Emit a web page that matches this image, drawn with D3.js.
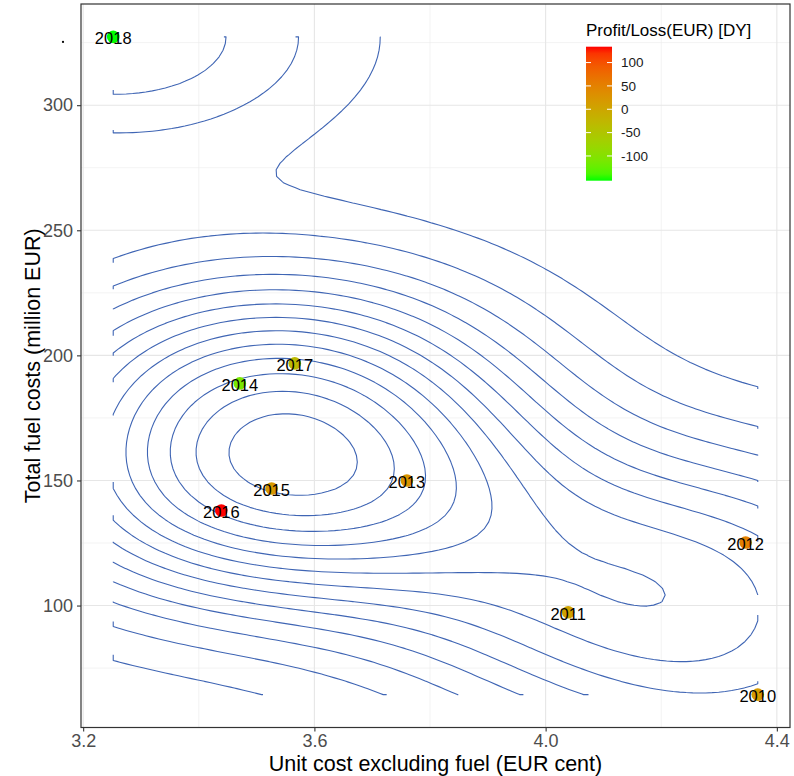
<!DOCTYPE html>
<html>
<head>
<meta charset="utf-8">
<script src="https://cdn.jsdelivr.net/npm/d3@7"></script>
<style>
  body { margin: 0; background: #ffffff; }
  svg text { font-family: "Liberation Sans", Arial, sans-serif; }
</style>
</head>
<body>
<svg id="chart" width="794" height="776"></svg>
<script>
// ---------------- data ----------------
const years      = [2010, 2011, 2012, 2013, 2014, 2015, 2016, 2017, 2018];
const unitCost   = [4.367, 4.039, 4.346, 3.760, 3.471, 3.526, 3.439, 3.566, 3.252]; // EUR cent
const fuelCost   = [64.4, 97.3, 125.2, 150.0, 188.8, 146.8, 138.0, 196.8, 327.3];  // million EUR
const profitLoss = [15, 5, 50, 25, -110, 20, 134, -30, -153];                     // EUR [DY]
const xTickValues = [3.2, 3.6, 4.0, 4.4];
const xMinorValues = [3.4, 3.8, 4.2];
const yTickValues = [100, 150, 200, 250, 300];
const yMinorValues = [75, 125, 175, 225, 275, 325];
const legendTickValues = [100, 50, 0, -50, -100];

// ---------------- layout ----------------
const svg = d3.select("#chart");
const panel = { left: 81, right: 790, top: 4, bottom: 727.5 };

function expand(ext, mult) {
  const r = ext[1] - ext[0];
  return [ext[0] - r * mult, ext[1] + r * mult];
}
const xExt = d3.extent(unitCost), yExt = d3.extent(fuelCost);
const x = d3.scaleLinear().domain(expand(xExt, 0.05)).range([panel.left, panel.right]);
const y = d3.scaleLinear().domain(expand(yExt, 0.05)).range([panel.bottom, panel.top]);

const color = d3.scaleLinear()
  .domain(d3.extent(profitLoss))
  .range(["#00ff00", "#ff0000"])
  .interpolate(d3.interpolateLab);

// ---------------- grid ----------------
const grid = svg.append("g");
grid.selectAll(".xminor").data(xMinorValues).join("line")
  .attr("x1", d => x(d)).attr("x2", d => x(d))
  .attr("y1", panel.top).attr("y2", panel.bottom)
  .attr("stroke", "#ebebeb").attr("stroke-width", 0.6);
grid.selectAll(".yminor").data(yMinorValues).join("line")
  .attr("y1", d => y(d)).attr("y2", d => y(d))
  .attr("x1", panel.left).attr("x2", panel.right)
  .attr("stroke", "#ebebeb").attr("stroke-width", 0.6);
grid.selectAll(".xmajor").data(xTickValues).join("line")
  .attr("x1", d => x(d)).attr("x2", d => x(d))
  .attr("y1", panel.top).attr("y2", panel.bottom)
  .attr("stroke", "#e6e6e6").attr("stroke-width", 1.1);
grid.selectAll(".ymajor").data(yTickValues).join("line")
  .attr("y1", d => y(d)).attr("y2", d => y(d))
  .attr("x1", panel.left).attr("x2", panel.right)
  .attr("stroke", "#e6e6e6").attr("stroke-width", 1.1);

// ---------------- 2D density (kde2d-like) ----------------
function bandwidthNrd(v) {
  const s = v.slice().sort(d3.ascending);
  const iqr = d3.quantileSorted(s, 0.75) - d3.quantileSorted(s, 0.25);
  return 4 * 1.06 * Math.min(d3.deviation(v), iqr / 1.34) * Math.pow(v.length, -0.2);
}
const N = 100;
const adjust = 1.015;
const hx = adjust * bandwidthNrd(unitCost) / 4, hy = adjust * bandwidthNrd(fuelCost) / 4;
const gx = d3.range(N).map(i => xExt[0] + i * (xExt[1] - xExt[0]) / (N - 1));
const gy = d3.range(N).map(j => yExt[0] + j * (yExt[1] - yExt[0]) / (N - 1));
const dnorm = t => Math.exp(-0.5 * t * t) / Math.sqrt(2 * Math.PI);
const values = new Array(N * N);
for (let j = 0; j < N; j++) {
  for (let i = 0; i < N; i++) {
    let s = 0;
    for (let k = 0; k < unitCost.length; k++) {
      s += dnorm((gx[i] - unitCost[k]) / hx) * dnorm((gy[j] - fuelCost[k]) / hy);
    }
    values[j * N + i] = s / (unitCost.length * hx * hy);
  }
}
function rPretty(lo, up, ndiv) {
  const h = 1.5, h5 = 0.5 + 1.5 * h;
  const cell = (up - lo) / ndiv;
  const U = Math.pow(10, Math.floor(Math.log10(cell)));
  let unit = U;
  if (2 * U - cell < h * (cell - unit)) { unit = 2 * U;
    if (5 * U - cell < h5 * (cell - unit)) { unit = 5 * U;
      if (10 * U - cell < h * (cell - unit)) unit = 10 * U; } }
  let ns = Math.floor(lo / unit + 1e-7), nu = Math.ceil(up / unit - 1e-7);
  return d3.range(ns, nu + 1).map(k => k * unit);
}
const zExt = d3.extent(values);
const breaks = rPretty(zExt[0], zExt[1], 10).filter(b => b > zExt[0] && b < zExt[1]);
const contours = d3.contours().size([N, N]).thresholds(breaks)(values);

function ringToLines(ring) {
  let pts = ring.slice();
  const f = pts[0], l = pts[pts.length - 1];
  if (f[0] === l[0] && f[1] === l[1]) pts.pop();
  const m = pts.length;
  const onB = p => p[0] <= 0 || p[0] >= N || p[1] <= 0 || p[1] >= N;
  const cut = k => onB(pts[k]) && onB(pts[(k + 1) % m]);
  let start = -1;
  for (let k = 0; k < m; k++) if (cut(k)) { start = k; break; }
  if (start < 0) return [pts.concat([pts[0]])];
  const out = []; let cur = null;
  for (let s = 1; s <= m; s++) {
    const k = (start + s) % m;
    if (cut(k)) { if (cur && cur.length > 1) out.push(cur); cur = null; }
    else { if (!cur) cur = [pts[k]]; cur.push(pts[(k + 1) % m]); }
  }
  if (cur && cur.length > 1) out.push(cur);
  return out;
}
const clampC = c => Math.max(0.5, Math.min(N - 0.5, c));
const gridToX = c => xExt[0] + (clampC(c) - 0.5) * (xExt[1] - xExt[0]) / (N - 1);
const gridToY = c => yExt[0] + (clampC(c) - 0.5) * (yExt[1] - yExt[0]) / (N - 1);
const lineGen = d3.line().x(p => x(gridToX(p[0]))).y(p => y(gridToY(p[1])));
const contourLines = [];
contours.forEach(mp => mp.coordinates.forEach(poly => poly.forEach(ring => {
  ringToLines(ring).forEach(l => contourLines.push(l));
})));
svg.append("g").selectAll("path").data(contourLines).join("path")
  .attr("d", lineGen)
  .attr("fill", "none")
  .attr("stroke", "#3f65b4")
  .attr("stroke-width", 1.1)
  .attr("stroke-linejoin", "round");

// ---------------- points & labels ----------------
const pts = years.map((yr, i) => ({ yr, ux: unitCost[i], fy: fuelCost[i], p: profitLoss[i] }));
svg.append("g").selectAll("circle").data(pts).join("circle")
  .attr("cx", d => x(d.ux)).attr("cy", d => y(d.fy)).attr("r", 6.3)
  .attr("fill", d => color(d.p));
svg.append("g").selectAll("text").data(pts).join("text")
  .attr("x", d => x(d.ux)).attr("y", d => y(d.fy)).attr("dy", "0.45em")
  .attr("text-anchor", "middle").attr("font-size", 16.5).attr("fill", "#000")
  .text(d => d.yr);

// ---------------- panel border ----------------
svg.append("rect")
  .attr("x", panel.left).attr("y", panel.top)
  .attr("width", panel.right - panel.left).attr("height", panel.bottom - panel.top)
  .attr("fill", "none").attr("stroke", "#333333").attr("stroke-width", 1.2);

// ---------------- axes ----------------
const xAxis = svg.append("g").attr("transform", `translate(0,${panel.bottom})`)
  .call(d3.axisBottom(x).tickValues(xTickValues).tickFormat(d3.format(".1f")).tickSize(4).tickPadding(3));
const yAxis = svg.append("g").attr("transform", `translate(${panel.left},0)`)
  .call(d3.axisLeft(y).tickValues(yTickValues).tickFormat(d3.format("d")).tickSize(4).tickPadding(4));
[xAxis, yAxis].forEach(a => {
  a.select(".domain").remove();
  a.selectAll(".tick line").attr("stroke", "#333333").attr("stroke-width", 1.1);
  a.selectAll(".tick text").attr("fill", "#4d4d4d").attr("font-size", 18)
    .attr("font-family", "'Liberation Sans', Arial, sans-serif");
});

svg.append("text")
  .attr("x", (panel.left + panel.right) / 2).attr("y", 771)
  .attr("text-anchor", "middle").attr("font-size", 21.5).attr("fill", "#000")
  .text("Unit cost excluding fuel (EUR cent)");
svg.append("text")
  .attr("transform", `translate(40,${(panel.top + panel.bottom) / 2}) rotate(-90)`)
  .attr("text-anchor", "middle").attr("font-size", 21.5).attr("fill", "#000")
  .text("Total fuel costs (million EUR)");

// small stray mark left of the panel
svg.append("circle").attr("cx", panel.left - 18).attr("cy", y(d3.max(fuelCost)) + 5)
  .attr("r", 1.1).attr("fill", "#000");

// ---------------- legend ----------------
const lg = { x: 586, top: 46.7, bottom: 180.7, w: 26 };
const lScale = d3.scaleLinear().domain(d3.extent(profitLoss)).range([lg.bottom, lg.top]);
const defs = svg.append("defs");
const grad = defs.append("linearGradient").attr("id", "plgrad")
  .attr("x1", 0).attr("y1", 1).attr("x2", 0).attr("y2", 0);
grad.selectAll("stop").data(d3.range(0, 1.0001, 0.05)).join("stop")
  .attr("offset", t => t)
  .attr("stop-color", t => color(color.domain()[0] + t * (color.domain()[1] - color.domain()[0])));
const legend = svg.append("g");
legend.append("text").attr("x", lg.x).attr("y", 36).attr("font-size", 17).attr("fill", "#000")
  .text("Profit/Loss(EUR) [DY]");
legend.append("rect").attr("x", lg.x).attr("y", lg.top).attr("width", lg.w)
  .attr("height", lg.bottom - lg.top).attr("fill", "url(#plgrad)");
legend.selectAll(".tl").data(legendTickValues).join("line")
  .attr("x1", lg.x).attr("x2", lg.x + 5).attr("y1", d => lScale(d)).attr("y2", d => lScale(d))
  .attr("stroke", "#fff").attr("stroke-width", 1);
legend.selectAll(".tr").data(legendTickValues).join("line")
  .attr("x1", lg.x + lg.w - 5).attr("x2", lg.x + lg.w).attr("y1", d => lScale(d)).attr("y2", d => lScale(d))
  .attr("stroke", "#fff").attr("stroke-width", 1);
legend.selectAll(".lt").data(legendTickValues).join("text")
  .attr("x", lg.x + lg.w + 9).attr("y", d => lScale(d)).attr("dy", "0.36em")
  .attr("font-size", 13.5).attr("fill", "#1a1a1a")
  .text(d => d);
</script>
</body>
</html>
